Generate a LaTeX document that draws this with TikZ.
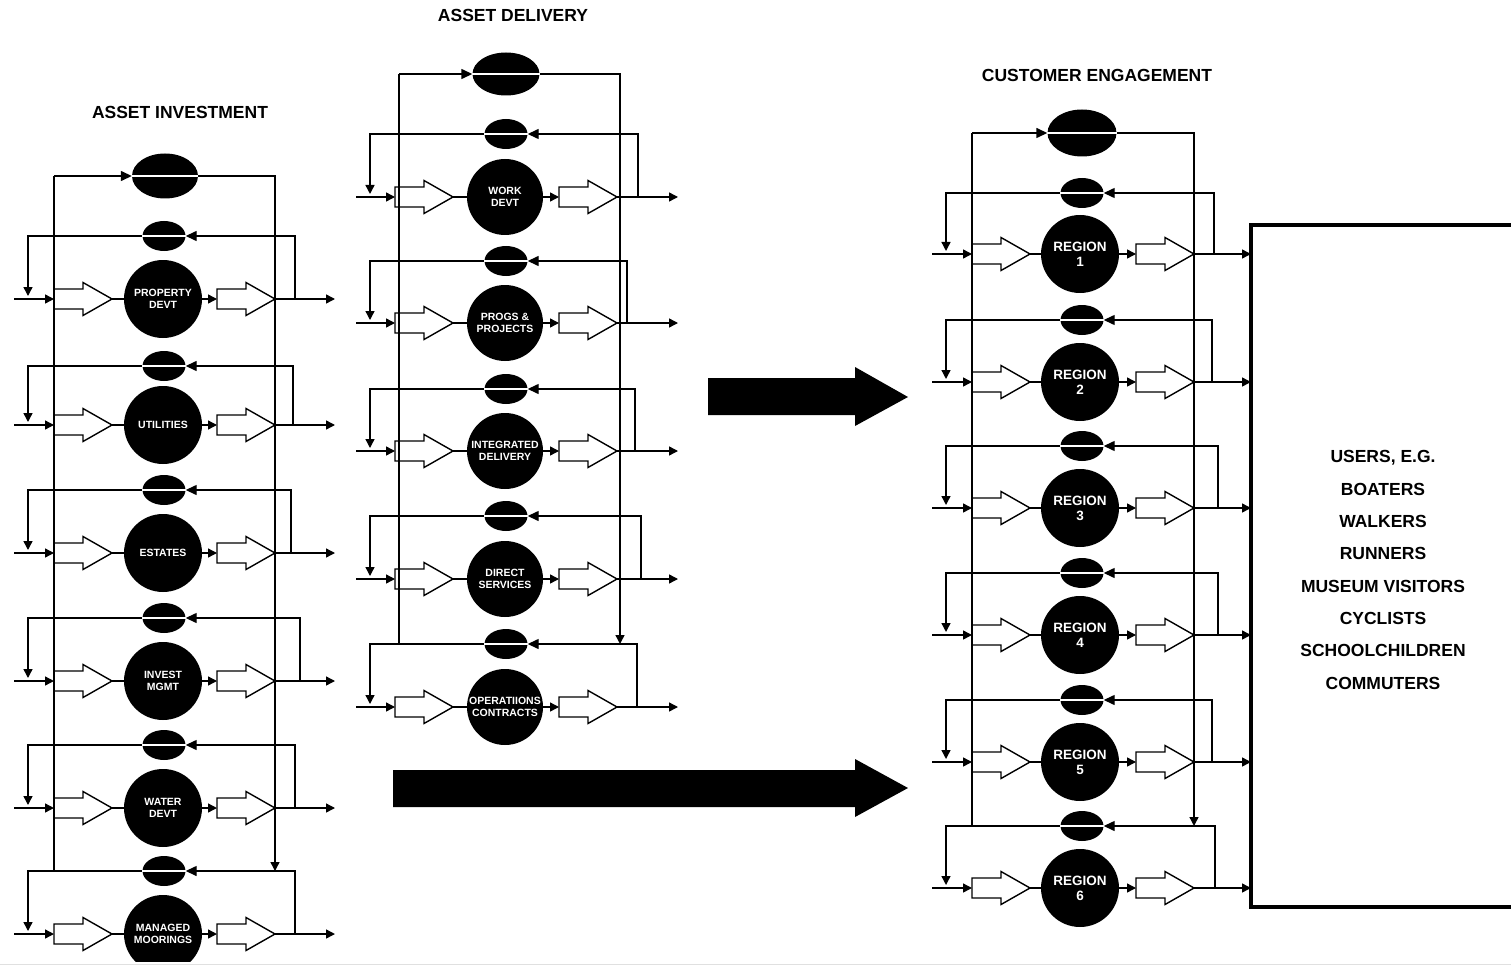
\documentclass[tikz,border=0pt]{standalone}
\usepackage{fontspec}
\setmainfont{Liberation Sans}[BoldFont={Liberation Sans Bold}]
\usetikzlibrary{arrows.meta,shapes.geometric}
\tikzset{
  ln/.style={line width=1.4pt},
  arr/.style={ln,-{Triangle[length=9pt,width=9pt]}},
  arrF/.style={ln,-{Triangle[length=11pt,width=10pt]}},
  openarrow/.style={draw,line width=1.4pt,fill=white,line join=miter},
  thickcon/.style={line width=2.8pt},
  blob/.style={circle,fill=black,draw=none,inner sep=0pt,text=white,align=center},
  smallell/.style={ellipse,fill=black,draw=none,inner sep=0pt,minimum width=43pt,minimum height=30pt},
  bigell/.style={ellipse,fill=black,draw=none,inner sep=0pt,minimum width=67pt,minimum height=45pt},
  whiteline/.style={white,line width=1.3pt},
  title/.style={font=\bfseries\fontsize{17.5}{20}\selectfont},
  bigarrow/.style={fill=black,draw=none},
  userbox/.style={line width=4.5pt,line cap=rect},
}
% column parameters are set with \setcol before each column
\newcommand\setcol[9]{%
  \def\Kin{#1}\def\Kab{#2}\def\Kc{#3}\def\Kbb{#4}\def\Kout{#5}\def\Kfl{#6}\def\Ke{#7}\def\Kr{#8}\def\Kfont{#9}}
\newcommand\unitdraw[5]{% #1 id, #2 row y, #3 feedback y, #4 feedback right x, #5 label
  \coordinate (in#1) at (\Kin,#2);
  \coordinate (ab#1) at (\Kab,#2);
  \coordinate (at#1) at (\Kab+58,#2);
  \coordinate (bb#1) at (\Kbb,#2);
  \coordinate (bt#1) at (\Kbb+58,#2);
  \coordinate (out#1) at (\Kout,#2);
  \coordinate (fr#1) at (#4,#2);
  \coordinate (fl#1) at (\Kfl,#2-3);
  \draw[openarrow] (\Kab,#2-10) -- (\Kab+29,#2-10) -- (\Kab+29,#2-16.5) -- (at#1)
      -- (\Kab+29,#2+16.5) -- (\Kab+29,#2+10) -- (\Kab,#2+10) -- cycle;
  \draw[openarrow] (\Kbb,#2-10) -- (\Kbb+29,#2-10) -- (\Kbb+29,#2-16.5) -- (bt#1)
      -- (\Kbb+29,#2+16.5) -- (\Kbb+29,#2+10) -- (\Kbb,#2+10) -- cycle;
  \node[blob,minimum size=\Kr pt,font=\Kfont] (c#1) at (\Kc,#2) {#5};
  \node[smallell] (e#1) at (\Ke,#3) {};
  \draw[arr] (in#1) -- (ab#1);
  \draw[thickcon] (at#1) -- (c#1);
  \draw[arr] (c#1) -- (bb#1);
  \draw[arr] (bt#1) -- (out#1);
  \draw[arrF] (fr#1) |- (e#1.east);
  \draw[arr] (e#1.west) -| (fl#1);
  \draw[whiteline] (e#1.west) -- (e#1.east);
}
\begin{document}
\begin{tikzpicture}[x=1pt,y=-1pt]
\useasboundingbox (0,0) rectangle (1511,968);
\begin{scope}
\clip (0,0) rectangle (1511,961);

% ---------------- titles
\node[title] (t1) at (180,112) {ASSET INVESTMENT};
\node[title] (t2) at (513,15) {ASSET DELIVERY};
\node[title] (t3) at (1097,75) {CUSTOMER ENGAGEMENT};

% ---------------- ASSET INVESTMENT column
\setcol{14}{54}{163}{217}{335}{28}{164}{78}{\bfseries\fontsize{10.5}{12}\selectfont}
\foreach \id/\r/\f/\fr/\lab in {
  L1/299/236/295/{PROPERTY\\DEVT},
  L2/425/366/293/{UTILITIES},
  L3/553/490/291/{ESTATES},
  L4/681/618/300/{INVEST\\MGMT},
  L5/808/745/295/{WATER\\DEVT},
  L6/934/871/295/{MANAGED\\MOORINGS}}
  {\unitdraw{\id}{\r}{\f}{\fr}{\lab}}
\node[bigell,minimum width=66pt,minimum height=45pt] (TL) at (165,176) {};
\coordinate (L1top) at (54,176);
\coordinate (L1bot) at (54,871);
\coordinate (L2bot) at (275,871);
\draw[ln] (L1bot) -- (L1top);
\draw[arrF] (L1top) -- (TL.west);
\draw[arr] (TL.east) -| (L2bot);
\draw[whiteline] (TL.west) -- (TL.east);

% ---------------- ASSET DELIVERY column
\setcol{356}{395}{505}{559}{678}{370}{506}{76}{\bfseries\fontsize{10.5}{12}\selectfont}
\foreach \id/\r/\f/\fr/\lab in {
  M1/197/134/638/{WORK\\DEVT},
  M2/323/261/627/{PROGS \&\\PROJECTS},
  M3/451/389/635/{INTEGRATED\\DELIVERY},
  M4/579/516/641/{DIRECT\\SERVICES},
  M5/707/644/637/{OPERATIIONS\\CONTRACTS}}
  {\unitdraw{\id}{\r}{\f}{\fr}{\lab}}
\node[bigell,minimum width=67pt,minimum height=43pt] (TM) at (506,74) {};
\coordinate (M1top) at (399,74);
\coordinate (M1bot) at (399,644);
\coordinate (M2bot) at (620,644);
\draw[ln] (M1bot) -- (M1top);
\draw[arrF] (M1top) -- (TM.west);
\draw[arr] (TM.east) -| (M2bot);
\draw[whiteline] (TM.west) -- (TM.east);

% ---------------- CUSTOMER ENGAGEMENT column
\setcol{932}{972}{1080}{1136}{1251}{946}{1082}{78}{\bfseries\fontsize{13.5}{15}\selectfont}
\foreach \id/\r/\f/\fr/\lab in {
  R1/254/193/1214/{REGION\\1},
  R2/382/320/1212/{REGION\\2},
  R3/508/446/1218/{REGION\\3},
  R4/635/573/1218/{REGION\\4},
  R5/762/700/1212/{REGION\\5},
  R6/888/826/1215/{REGION\\6}}
  {\unitdraw{\id}{\r}{\f}{\fr}{\lab}}
\node[bigell,minimum width=69pt,minimum height=47pt] (TR) at (1082,133) {};
\coordinate (R1top) at (972,133);
\coordinate (R1bot) at (972,826);
\coordinate (R2bot) at (1194,826);
\draw[ln] (R1bot) -- (R1top);
\draw[arrF] (R1top) -- (TR.west);
\draw[arr] (TR.east) -| (R2bot);
\draw[whiteline] (TR.west) -- (TR.east);

% ---------------- big arrows
\fill[bigarrow] (708,378) -- (855,378) -- (855,367) -- (908,397) -- (855,426)
   -- (855,415) -- (708,415) -- cycle;
\fill[bigarrow] (393,770) -- (855,770) -- (855,759) -- (908,788) -- (855,817)
   -- (855,807) -- (393,807) -- cycle;

% ---------------- users box
\coordinate (ub1) at (1530,225);
\coordinate (ub2) at (1251,225);
\coordinate (ub3) at (1251,907);
\coordinate (ub4) at (1530,907);
\draw[userbox] (ub1) -- (ub2) -- (ub3) -- (ub4);
\node[font=\bfseries\fontsize{17.5}{32.3}\selectfont,align=center] (users) at (1383,570)
  {USERS, E.G.\\BOATERS\\WALKERS\\RUNNERS\\MUSEUM VISITORS\\CYCLISTS\\SCHOOLCHILDREN\\COMMUTERS};
\end{scope}
\draw[black!12,line width=1pt] (0,964) -- (1511,964);
\end{tikzpicture}
\end{document}
